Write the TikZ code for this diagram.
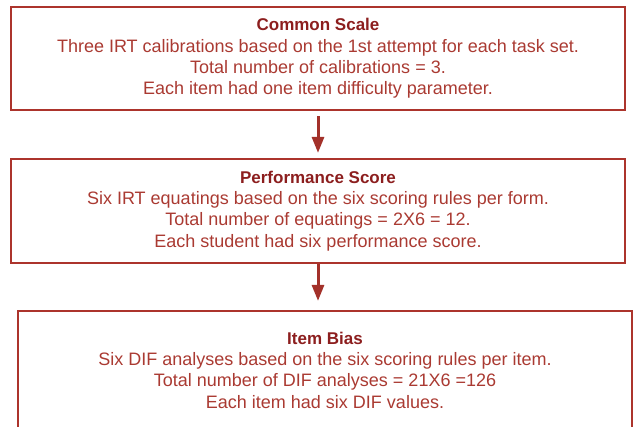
\documentclass[tikz,border=0pt]{standalone}
\usepackage{fontspec}
\setmainfont{Liberation Sans}
\usetikzlibrary{arrows.meta, positioning}

\definecolor{rustline}{RGB}{172,52,44}
\definecolor{rusttext}{RGB}{170,58,50}
\definecolor{rusthead}{RGB}{140,30,30}

\begin{document}
\begin{tikzpicture}[
    x=1pt, y=-1pt,
    >={Triangle[width=12pt,length=16pt]},
    stage box/.style={
        draw=rustline,
        line width=2.2pt,
        minimum width=614pt,
        inner sep=0pt,
        align=center,
        text=rusttext,
        font=\fontsize{18}{21.3}\selectfont
    },
    flow/.style={->, draw=rustline!95!black, line width=3pt}
]

% fixed frame, the last box runs off the bottom edge
\useasboundingbox (0,0) rectangle (637,427);
\clip (0,0) rectangle (637,427);

% the three stages
\node[stage box, minimum height=103pt] (scale) at (318,58.5) {%
    {\fontsize{17}{21.3}\bfseries\color{rusthead}Common Scale}\\
    Three IRT calibrations based on the 1st attempt for each task set.\\
    Total number of calibrations = 3.\\
    Each item had one item difficulty parameter.};

\node[stage box, minimum height=104pt] (perf) at (318,211) {%
    {\fontsize{17}{21.3}\bfseries\color{rusthead}Performance Score}\\
    Six IRT equatings based on the six scoring rules per form.\\
    Total number of equatings = 2X6 = 12.\\
    Each student had six performance score.};

\node[stage box, minimum height=118pt] (bias) at (325,370) {%
    {\fontsize{17}{21.3}\bfseries\color{rusthead}Item Bias}\\
    Six DIF analyses based on the six scoring rules per item.\\
    Total number of DIF analyses = 21X6 =126\\
    Each item had six DIF values.};

% arrows between stages
\draw[flow, shorten <=5pt, shorten >=5pt] (scale.south) -- (perf.north);
\draw[flow, shorten >=9pt] (perf.south) -- (perf.south |- bias.north);

\end{tikzpicture}
\end{document}
